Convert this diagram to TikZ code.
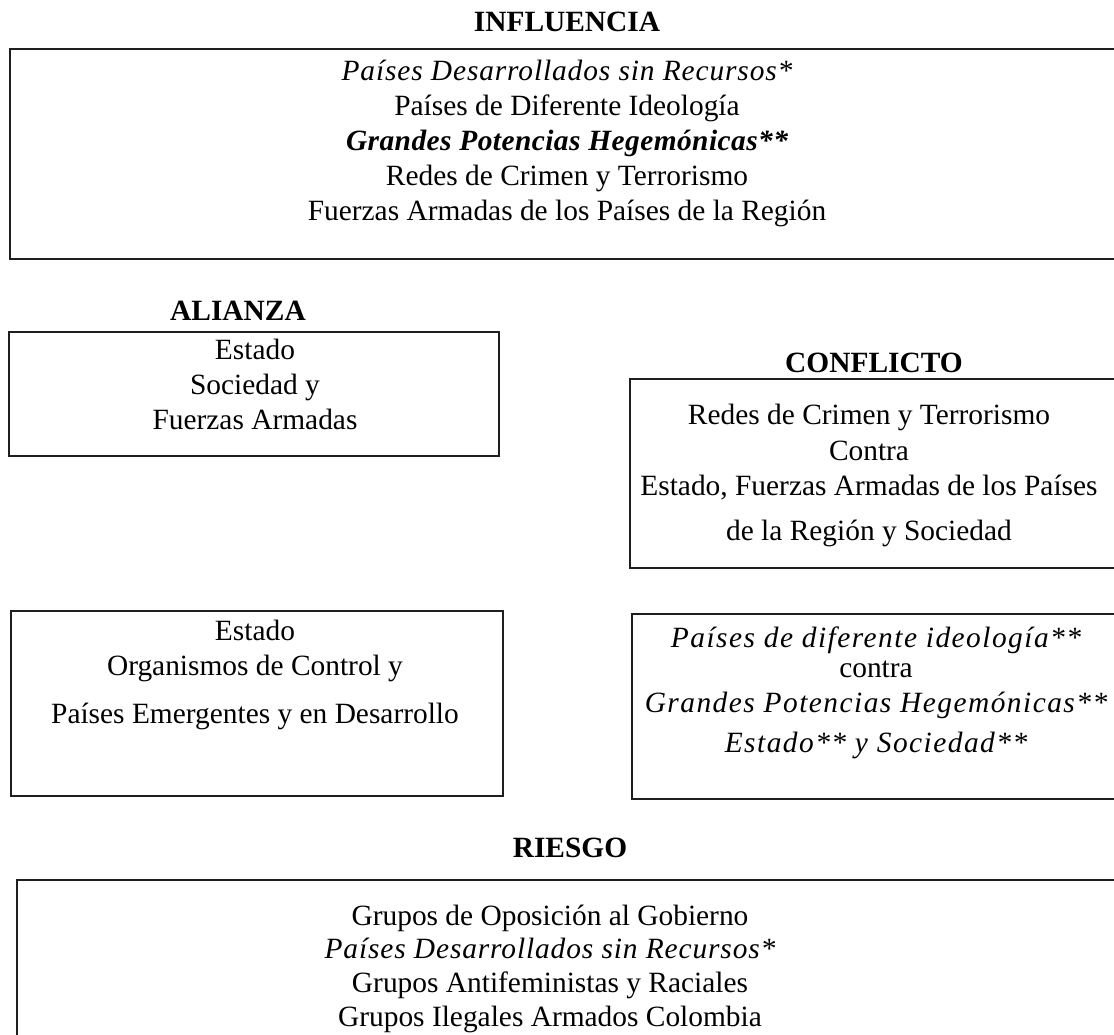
\documentclass[tikz,border=0pt]{standalone}
\usepackage{fontspec}
\setmainfont{Liberation Serif}
\newfontfamily\spacedserif{Liberation Serif}[LetterSpace=3]
\newfontfamily\widerserif{Liberation Serif}[LetterSpace=5]
\newfontfamily\lightspaced{Liberation Serif}[LetterSpace=1.5]
\newcommand\wideit[1]{{\spacedserif\itshape #1}}
\newcommand\widerit[1]{{\widerserif\itshape #1}}
\newcommand\widebfit[1]{{\lightspaced\bfseries\itshape #1}}

\begin{document}
\begin{tikzpicture}[x=1pt,y=-1pt,
  txt/.style={anchor=base, inner sep=0pt, font=\fontsize{29.4}{35}\selectfont},
  head/.style={anchor=base, inner sep=0pt, font=\fontsize{29.4}{35}\selectfont\bfseries},
  panel/.style={draw=black!88, line width=2.8pt}]
\useasboundingbox (0,0) rectangle (1114,1034);
\clip (0,0) rectangle (1114,1034);

% --- INFLUENCIA ---
\node[head] (hInf) at (567,31) {INFLUENCIA};
\draw[panel] (10,49) rectangle (1130,259);
\node[txt] (inf1) at (567,80)  {\wideit{Países Desarrollados sin Recursos*}};
\node[txt] (inf2) at (567,115) {Países de Diferente Ideología};
\node[txt] (inf3) at (567,150) {\widebfit{Grandes Potencias Hegemónicas**}};
\node[txt] (inf4) at (567,185) {Redes de Crimen y Terrorismo};
\node[txt] (inf5) at (567,220) {Fuerzas Armadas de los Países de la Región};

% --- ALIANZA ---
\node[head] (hAli) at (238,320) {ALIANZA};
\draw[panel] (9,332) rectangle (499,456);
\node[txt] (ali1) at (255,359) {Estado};
\node[txt] (ali2) at (255,394) {Sociedad y};
\node[txt] (ali3) at (255,429) {Fuerzas Armadas};

% --- CONFLICTO ---
\node[head] (hCon) at (874,372) {CONFLICTO};
\draw[panel] (630,379) rectangle (1130,568);
\node[txt] (con1) at (869,424) {Redes de Crimen y Terrorismo};
\node[txt] (con2) at (869,460) {Contra};
\node[txt] (con3) at (869,495) {Estado, Fuerzas Armadas de los Países};
\node[txt] (con4) at (869,540) {de la Región y Sociedad};

% --- lower left panel ---
\draw[panel] (11,611) rectangle (503,796);
\node[txt] (ctl1) at (255,640) {Estado};
\node[txt] (ctl2) at (255,675) {Organismos de Control y};
\node[txt] (ctl3) at (255,723) {Países Emergentes y en Desarrollo};

% --- lower right panel ---
\draw[panel] (632,614) rectangle (1130,799);
\node[txt] (ide1) at (876,647) {\widerit{Países de diferente ideología**}};
\node[txt] (ide2) at (876,677) {contra};
\node[txt] (ide3) at (876,712) {\widerit{Grandes Potencias Hegemónicas**}};
\node[txt] (ide4) at (876,752) {\widerit{Estado** y Sociedad**}};

% --- RIESGO ---
\node[head] (hRie) at (570,857) {RIESGO};
\draw[panel] (17,880) rectangle (1130,1060);
\node[txt] (rie1) at (550,925)  {Grupos de Oposición al Gobierno};
\node[txt] (rie2) at (550,958)  {\wideit{Países Desarrollados sin Recursos*}};
\node[txt] (rie3) at (550,992)  {Grupos Antifeministas y Raciales};
\node[txt] (rie4) at (550,1026) {Grupos Ilegales Armados Colombia};
\end{tikzpicture}
\end{document}
